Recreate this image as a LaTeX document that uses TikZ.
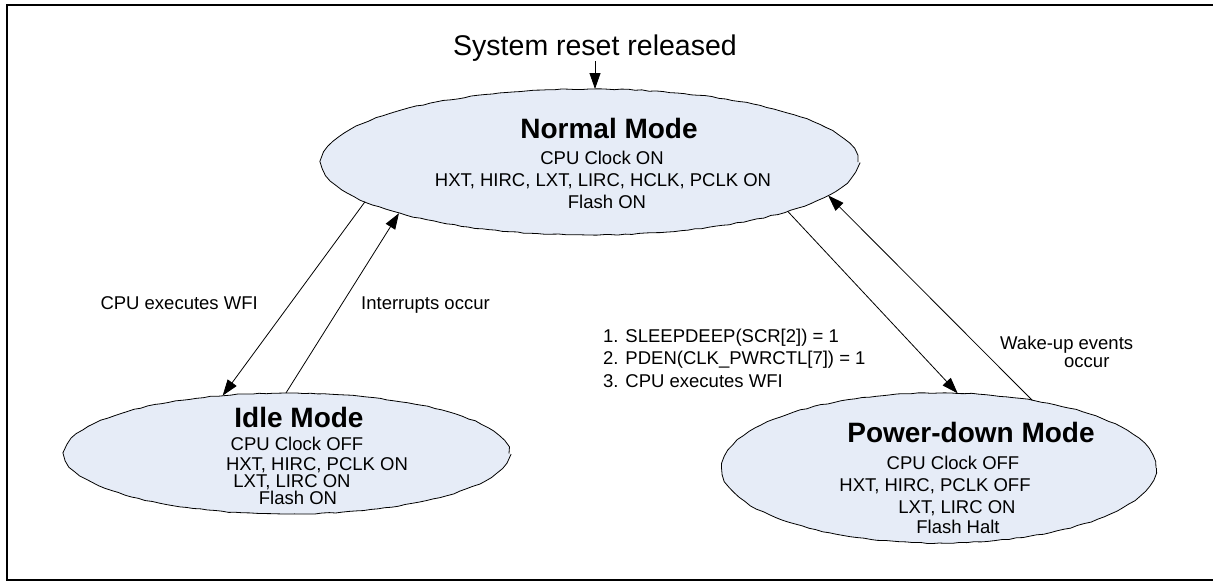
\documentclass[tikz,border=0pt]{standalone}
\usepackage{fontspec}
\setmainfont{Liberation Sans}
\usetikzlibrary{arrows.meta,shapes.geometric,decorations.pathmorphing}
\definecolor{modefill}{HTML}{E6ECF7}
\begin{document}
\begin{tikzpicture}[x=1pt,y=-1pt,
  mode/.style={ellipse, draw=black, line width=0.8pt, fill=modefill, inner sep=0pt, outer sep=0pt,
    decorate, decoration={random steps, segment length=7pt, amplitude=0.5pt}},
  ttl/.style={anchor=base, font=\bfseries\fontsize{28}{30}\selectfont, inner sep=0pt},
  txt/.style={anchor=base, font=\fontsize{18.5}{21}\selectfont, inner sep=0pt},
  lbl/.style={anchor=base west, font=\fontsize{18.5}{21}\selectfont, inner sep=0pt},
  arr/.style={-{Triangle[length=16pt,width=11pt]}, line width=0.8pt},
  frameline/.style={line width=2pt, line join=miter}]
\useasboundingbox (0,0) rectangle (1213,581);
\pgfmathsetseed{7}
\draw[frameline] (1213,5) -- (7,5) -- (7,579.5) -- (1213,579.5);

% states
\node[mode, minimum width=536pt, minimum height=146pt] (normal) at (590,162) {};
\node[mode, minimum width=444pt, minimum height=121pt] (idle) at (287,453.5) {};
\node[mode, minimum width=434pt, minimum height=150pt] (pd) at (939,468) {};

% reset label
\node[anchor=base, font=\fontsize{28.5}{30}\selectfont, inner sep=0pt] (reset) at (595,55) {System reset released};

% Normal mode text
\node[ttl] (nt) at (609,138) {Normal Mode};
\node[txt] (n1) at (602,164) {CPU Clock ON};
\node[txt] (n2) at (603,186) {HXT, HIRC, LXT, LIRC, HCLK, PCLK ON};
\node[txt] (n3) at (607,208) {Flash ON};

% Idle mode text
\node[ttl] (it) at (299,427) {Idle Mode};
\node[txt] (i1) at (297,450) {CPU Clock OFF};
\node[txt] (i2) at (317,470) {HXT, HIRC, PCLK ON};
\node[txt] (i3) at (292,487) {LXT, LIRC ON};
\node[txt] (i4) at (298,504) {Flash ON};

% Power-down mode text
\node[ttl] (pt) at (971,442) {Power-down Mode};
\node[txt] (p1) at (953,469) {CPU Clock OFF};
\node[txt] (p2) at (935,491) {HXT, HIRC, PCLK OFF};
\node[txt] (p3) at (957,513) {LXT, LIRC ON};
\node[txt] (p4) at (958,533) {Flash Halt};

% transition labels
\node[anchor=base east, font=\fontsize{18.5}{21}\selectfont, inner sep=0pt] (wfi) at (258,309) {CPU executes WFI};
\node[lbl] (intr) at (361,309) {Interrupts occur};
\node[lbl] (s1) at (603,342) {1. SLEEPDEEP(SCR[2]) = 1};
\node[lbl] (s2) at (603,364) {2. PDEN(CLK\_PWRCTL[7]) = 1};
\node[lbl] (s3) at (603,387) {3. CPU executes WFI};
\node[lbl] (wk1) at (1000,349) {Wake-up events};
\node[lbl] (wk2) at (1064,367) {occur};

% connectors
\draw[arr] (reset.south) -- (reset.south |- normal.north);
\draw[arr] (normal.190) -- (idle.138);
\draw[arr] (idle.91) -- (normal.195);
\draw[arr] (normal.346) -- (pd.76);
\draw[arr] (pd.36) -- (normal.352);
\end{tikzpicture}
\end{document}
